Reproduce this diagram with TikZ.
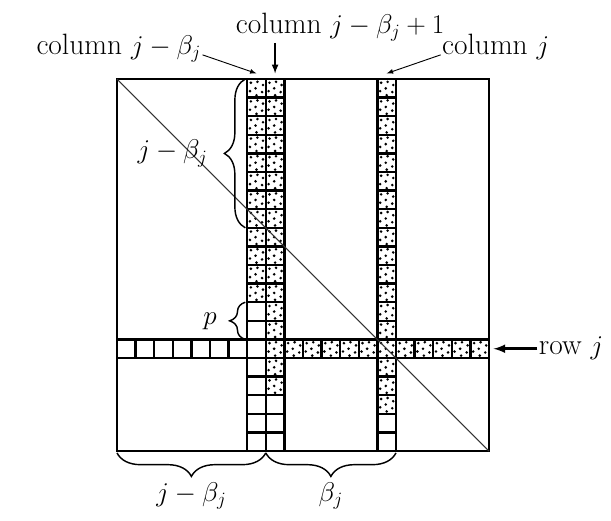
\documentclass[tikz,border=0pt]{standalone}
\usetikzlibrary{decorations.pathreplacing}

\tikzset{
    cellline/.style={line width=1.8pt},
    lbl/.style={font=\fontsize{22.5}{27}\selectfont, inner sep=1pt},
    bracedeco/.style={decorate, line width=1.1pt, decoration={brace, amplitude=#1}},
}

% seven dots inside the cell whose lower left corner is (#1,#2)
\newcommand{\dotcell}[2]{%
    \foreach \u/\v in {.2/.8, .55/.85, .85/.68, .45/.5, .15/.35, .8/.3, .5/.13}{
        \fill (#1+\u, #2+\v) circle (1.1pt);
    }
}

\begin{document}
\begin{tikzpicture}[x=0.5cm, y=0.5cm]

        \useasboundingbox (-6.29,-3.76) rectangle (26.56,24.25);

        % shaded cells
        \foreach \y in {8,...,19}{ \dotcell{7}{\y} }
        \foreach \y in {3,...,19}{ \dotcell{8}{\y} }
        \foreach \y in {2,...,19}{ \dotcell{14}{\y} }
        \foreach \x in {9,...,13,15,16,17,18,19}{ \dotcell{\x}{5} }

        % matrix, columns and row
        \draw[cellline] (0,0) rectangle (20,20);
        \draw[cellline, step=0.5cm] (7,0) grid (9,20);
        \draw[cellline, step=0.5cm] (14,0) grid (15,20);
        \draw[cellline, step=0.5cm] (0,5) grid (20,6);
        \draw[line width=0.8pt, black!80] (0,20) -- (20,0);

        % labels
        \node[lbl, anchor=base] (colb) at (12.0,22.45) {column $j-\beta_j+1$};
        \node[lbl, anchor=base east] (cola) at (4.6,21.3) {column $j-\beta_j$};
        \node[lbl, anchor=base west] (colj) at (17.4,21.3) {column $j$};
        \node[lbl, anchor=west] (rowj) at (22.6,5.5) {row $j$};

        \coordinate (ta) at (7.5,20.3);
        \coordinate (tb) at (8.5,20.3);
        \coordinate (tj) at (14.5,20.3);
        \coordinate (tr) at (20.25,5.5);

        \draw[-latex, line width=0.7pt] (cola.base east) -- (ta);
        \draw[-latex, line width=1.3pt] (colb.south -| tb) -- (tb);
        \draw[-latex, line width=0.7pt] (colj.base west) -- (tj);
        \draw[-latex, line width=2pt] (rowj.west) -- (tr);

        % braces
        \draw[bracedeco=16pt] (6.9,12) -- (6.9,20);
        \node[lbl, anchor=east] (lb) at (4.95,16) {$j-\beta_j$};
        \draw[bracedeco=12pt] (6.9,6) -- (6.9,8);
        \node[lbl] (lp) at (5.0,7.0) {$p$};
        \draw[bracedeco=18pt] (8,-0.1) -- (0,-0.1);
        \node[lbl] (lc) at (4,-2.4) {$j-\beta_j$};
        \draw[bracedeco=18pt] (15,-0.1) -- (8,-0.1);
        \node[lbl] (ld) at (11.5,-2.4) {$\beta_j$};

    \end{tikzpicture}
\end{document}
